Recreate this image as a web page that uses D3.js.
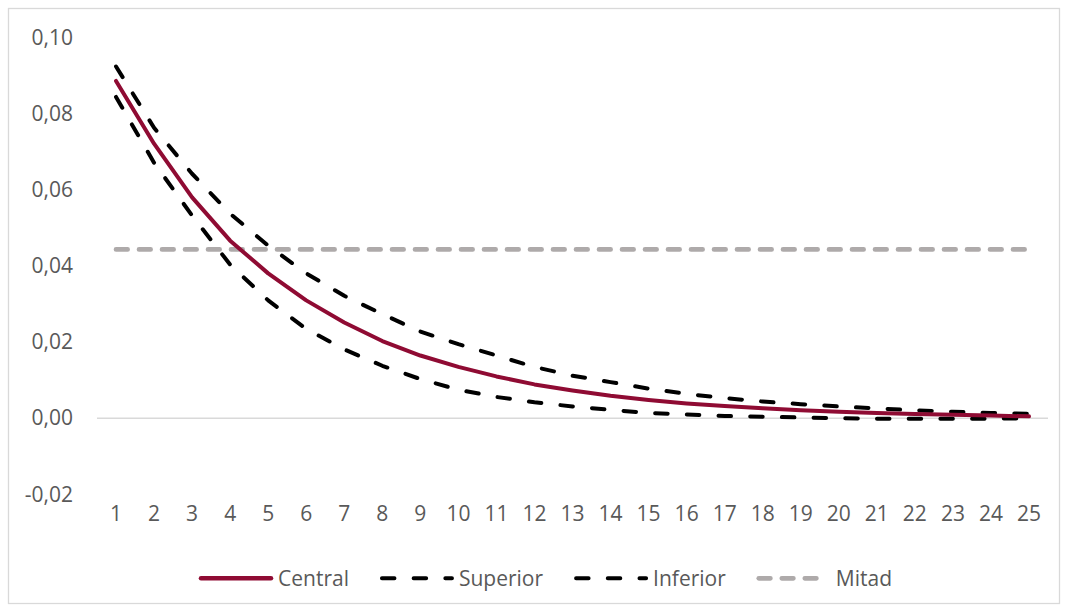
<!DOCTYPE html>
<html>
<head>
<meta charset="utf-8">
<script src="https://cdn.jsdelivr.net/npm/d3@7/dist/d3.min.js"></script>
<style>
  html, body { margin: 0; padding: 0; background: #ffffff; }
  svg { display: block; }
  text { font-family: "Open Sans", "Liberation Sans", sans-serif; fill: #595959; }
</style>
</head>
<body>
<svg id="chart" width="1068" height="612"></svg>
<script>
// Horizon (years)
const periods = d3.range(1, 26).map(String);

// Series values
const central  = [0.0887, 0.0722, 0.0581, 0.0467, 0.0381, 0.0310, 0.0252, 0.0203, 0.0165, 0.0135,
                  0.0110, 0.0089, 0.0073, 0.0059, 0.0048, 0.0039, 0.0032, 0.0026, 0.0021, 0.0017,
                  0.0014, 0.0011, 0.0009, 0.0007, 0.0005];
const superior = [0.0925, 0.0764, 0.0643, 0.0538, 0.0454, 0.0381, 0.0322, 0.0274, 0.0228, 0.0195,
                  0.0165, 0.0135, 0.0112, 0.0095, 0.0078, 0.0064, 0.0053, 0.0044, 0.0037, 0.0031,
                  0.0026, 0.0021, 0.0017, 0.0014, 0.0012];
const inferior = [0.0845, 0.0672, 0.0533, 0.0404, 0.0310, 0.0235, 0.0181, 0.0138, 0.0103, 0.0075,
                  0.0056, 0.0042, 0.0031, 0.0022, 0.0014, 0.0010, 0.0006, 0.0004, 0.0002, 0.0000,
                  -0.0001, -0.0001, -0.0001, -0.0001, 0.0000];
const mitad    = periods.map(() => 0.0444);

// Y tick values
const yTicks = [-0.02, 0.00, 0.02, 0.04, 0.06, 0.08, 0.10];

const seriesNames = ["Central", "Superior", "Inferior", "Mitad"];
const seriesValues = [central, superior, inferior, mitad];

const styles = {
  Central:  { stroke: "#8F0B33", width: 4,   dash: null,        cap: "round", sample: 70 },
  Superior: { stroke: "#000000", width: 4,   dash: "12.5,19.2", cap: "round", sample: 70 },
  Inferior: { stroke: "#000000", width: 4,   dash: "12.5,19.2", cap: "round", sample: 70 },
  Mitad:    { stroke: "#AEAAAA", width: 4.7, dash: "11.6,11.4", cap: "round", sample: 62 }
};

const series = seriesNames.map((name, i) => ({ name, values: seriesValues[i] }));

const svg = d3.select("#chart");

// Outer chart frame
svg.append("rect")
  .attr("x", 8.5).attr("y", 8.5)
  .attr("width", 1051).attr("height", 595)
  .attr("fill", "#ffffff")
  .attr("stroke", "#D9D9D9")
  .attr("stroke-width", 1.3);

const plot = { left: 97, right: 1048, top: 38, bottom: 494.3 };

const x = d3.scaleBand()
  .domain(periods)
  .range([plot.left, plot.right]);

const y = d3.scaleLinear()
  .domain([-0.02, 0.10])
  .range([plot.bottom, plot.top]);

const fmt = v => d3.format(".2f")(v).replace(".", ",").replace("−", "-");

// Y axis labels (no axis line, no ticks)
const yAxis = svg.append("g")
  .attr("transform", `translate(${plot.left},0)`)
  .call(d3.axisLeft(y).tickValues(yTicks).tickFormat(fmt).tickSize(0).tickPadding(24));
yAxis.select(".domain").remove();
yAxis.selectAll("text")
  .attr("font-size", 21)
  .attr("font-family", "Open Sans, Liberation Sans, sans-serif")
  .attr("fill", "#595959");

// Zero line (category axis)
svg.append("line")
  .attr("x1", plot.left).attr("x2", plot.right)
  .attr("y1", y(0)).attr("y2", y(0))
  .attr("stroke", "#D9D9D9")
  .attr("stroke-width", 1.5);

// X axis labels at the bottom of the plot
const xAxis = svg.append("g")
  .attr("transform", `translate(0,${plot.bottom})`)
  .call(d3.axisBottom(x).tickSize(0).tickPadding(12));
xAxis.select(".domain").remove();
xAxis.selectAll("text")
  .attr("font-size", 21)
  .attr("font-family", "Open Sans, Liberation Sans, sans-serif")
  .attr("fill", "#595959");

// Series lines
const line = d3.line()
  .x((d, i) => x(periods[i]) + x.bandwidth() / 2)
  .y(d => y(d));

const drawOrder = ["Mitad", "Inferior", "Superior", "Central"];
svg.append("g")
  .selectAll("path")
  .data(drawOrder.map(n => series.find(s => s.name === n)))
  .join("path")
  .attr("d", d => line(d.values))
  .attr("fill", "none")
  .attr("stroke", d => styles[d.name].stroke)
  .attr("stroke-width", d => styles[d.name].width)
  .attr("stroke-dasharray", d => styles[d.name].dash)
  .attr("stroke-linecap", d => styles[d.name].cap)
  .attr("stroke-linejoin", "round");

// Legend
const legendY = 578.3;
const symbolLen = 70, symbolGap = 7, itemGap = 33;
const legend = svg.append("g");
const items = legend.selectAll("g")
  .data(series)
  .join("g");

items.append("line")
  .attr("x1", 0).attr("x2", d => styles[d.name].sample)
  .attr("y1", 0).attr("y2", 0)
  .attr("stroke", d => styles[d.name].stroke)
  .attr("stroke-width", d => d.name === "Central" ? 4.5 : styles[d.name].width)
  .attr("stroke-dasharray", d => styles[d.name].dash)
  .attr("stroke-linecap", d => styles[d.name].cap);

items.append("text")
  .attr("x", symbolLen + symbolGap)
  .attr("y", 0)
  .attr("dy", "0.36em")
  .attr("font-size", 21)
  .text(d => d.name);

let cursor = 0;
const offsets = [];
items.each(function() {
  offsets.push(cursor);
  const w = d3.select(this).select("text").node().getComputedTextLength();
  cursor += symbolLen + symbolGap + w + itemGap;
});
const totalW = cursor - itemGap;
const legendStart = 546.5 - totalW / 2;
items.attr("transform", (d, i) => `translate(${legendStart + offsets[i]},${legendY})`);
</script>
</body>
</html>
